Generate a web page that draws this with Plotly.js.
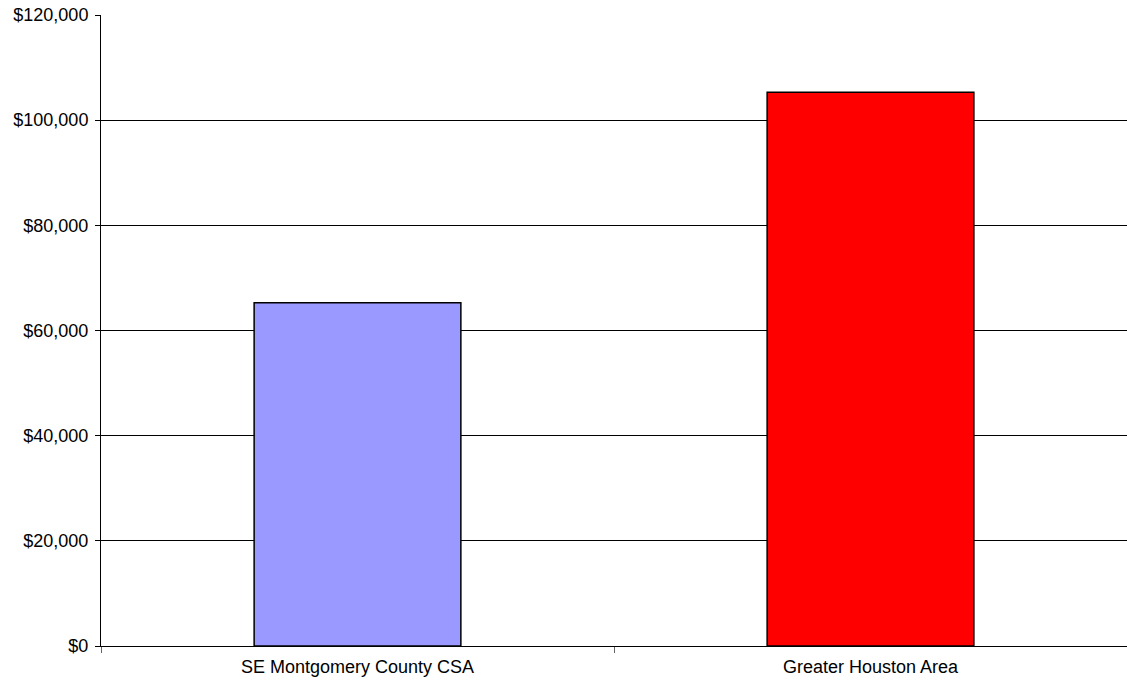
<!DOCTYPE html>
<html>
<head>
<meta charset="utf-8">
<script src="https://cdn.plot.ly/plotly-3.0.1.min.js"></script>
<style>html,body{margin:0;padding:0;background:#fff;}#chart{width:1127px;height:686px;}</style>
</head>
<body>
<div id="chart"></div>
<script>
const categories = ["SE Montgomery County CSA", "Greater Houston Area"];
const values = [65300, 105300];
const barColors = ["#9999ff", "#ff0000"];

const trace = {
  type: "bar",
  x: categories,
  y: values,
  width: 0.403,
  marker: {color: barColors, line: {color: "#000000", width: 1.5}},
  hoverinfo: "x+y"
};

const layout = {
  width: 1127,
  height: 686,
  margin: {l: 101, r: 0, t: 15, b: 40},
  paper_bgcolor: "#ffffff",
  plot_bgcolor: "#ffffff",
  showlegend: false,
  font: {family: "Liberation Sans, Arial, sans-serif", size: 18, color: "#000000"},
  xaxis: {
    type: "category",
    range: [-0.5, 1.5],
    showline: true,
    linecolor: "#000000",
    linewidth: 1,
    ticks: "outside",
    tickson: "boundaries",
    ticklen: 6,
    tickcolor: "#666666",
    showgrid: false,
    tickfont: {size: 18},
    ticklabelstandoff: 4
  },
  yaxis: {
    range: [0, 120000],
    dtick: 20000,
    tickprefix: "$",
    tickformat: ",d",
    showline: true,
    linecolor: "#000000",
    linewidth: 1,
    ticks: "outside",
    ticklen: 5,
    tickcolor: "#000000",
    showgrid: true,
    gridcolor: "#000000",
    gridwidth: 1,
    zeroline: false,
    tickfont: {size: 18},
    ticklabelstandoff: 3
  }
};

Plotly.newPlot("chart", [trace], layout, {displayModeBar: false, staticPlot: true});
</script>
</body>
</html>
